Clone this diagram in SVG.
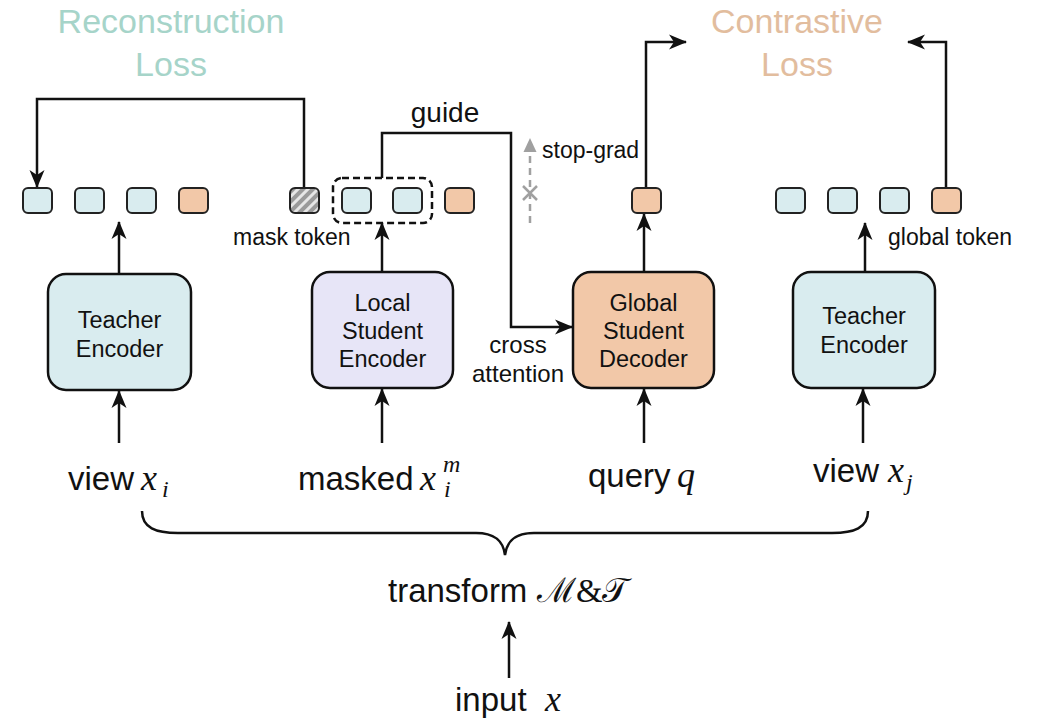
<svg xmlns="http://www.w3.org/2000/svg" width="1048" height="720" viewBox="0 0 1048 720">
  <style>
    .sans { font-family: "Liberation Sans", Arial, sans-serif; fill: #111; }
    .math { font-family: "Liberation Serif", "DejaVu Serif", serif; font-style: italic; fill: #111; }
    .title { font-size: 34px; text-anchor: middle; }
    .box { stroke: #111; stroke-width: 2.5; }
    .boxtxt { font-size: 23.5px; text-anchor: middle; }
    .tok { stroke: #222; stroke-width: 2; }
    .teal { fill: #d9ecef; }
    .orange { fill: #f2c8a8; }
    .lav { fill: #e7e5f7; }
    .wire { fill: none; stroke: #111; stroke-width: 2.5; }
    .note { font-size: 23px; }
    .io { font-size: 33px; }
  </style>
  <defs>
    <marker id="arrow" viewBox="0 0 18 16" refX="17" refY="8" markerWidth="18" markerHeight="16" orient="auto" markerUnits="userSpaceOnUse">
      <path d="M0,0.5 L18,8 L0,15.5 L5,8 z" fill="#111"/>
    </marker>
    <marker id="arrowGray" viewBox="0 0 14 14" refX="13" refY="7" markerWidth="14" markerHeight="14" orient="auto" markerUnits="userSpaceOnUse">
      <path d="M0,0.5 L14,7 L0,13.5 z" fill="#a0a0a0"/>
    </marker>
    <pattern id="hatch" patternUnits="userSpaceOnUse" width="7" height="7" patternTransform="rotate(45)">
      <rect width="7" height="7" fill="#9a9a9a"/>
      <rect width="3" height="7" fill="#e6e6e6"/>
    </pattern>
  </defs>

  <!-- loss titles -->
  <g id="reconstruction-loss">
    <text class="sans title" x="171" y="33" style="fill:#a6d4c9">Reconstruction</text>
    <text class="sans title" x="171" y="76" style="fill:#a6d4c9">Loss</text>
  </g>
  <g id="contrastive-loss">
    <text class="sans title" x="797" y="33" style="fill:#e2bd9e">Contrastive</text>
    <text class="sans title" x="797" y="76" style="fill:#e2bd9e">Loss</text>
  </g>

  <!-- connectors -->
  <g id="connectors">
    <!-- encoder outputs to token rows -->
    <path class="wire" d="M119,274 V222" marker-end="url(#arrow)"/>
    <path class="wire" d="M382,272 V223" marker-end="url(#arrow)"/>
    <path class="wire" d="M644,272 V214" marker-end="url(#arrow)"/>
    <path class="wire" d="M865,272 V223" marker-end="url(#arrow)"/>
    <!-- inputs into encoders -->
    <path class="wire" d="M119,443 V391" marker-end="url(#arrow)"/>
    <path class="wire" d="M382,443 V389" marker-end="url(#arrow)"/>
    <path class="wire" d="M644,443 V389" marker-end="url(#arrow)"/>
    <path class="wire" d="M863,443 V389" marker-end="url(#arrow)"/>
    <!-- reconstruction target -->
    <path class="wire" d="M304,188 V99 H37 V187" marker-end="url(#arrow)"/>
    <!-- guide / cross attention -->
    <path class="wire" d="M382,178 V133 H511 V327 H572" marker-end="url(#arrow)"/>
    <!-- contrastive pair -->
    <path class="wire" d="M646,188 V42 H686" marker-end="url(#arrow)"/>
    <path class="wire" d="M946,188 V42 H908" marker-end="url(#arrow)"/>
    <!-- stop-grad -->
    <path d="M530,223 V139" fill="none" stroke="#a0a0a0" stroke-width="2.5" stroke-dasharray="7,5" marker-end="url(#arrowGray)"/>
    <path d="M523,186 L537,200 M537,186 L523,200" stroke="#a0a0a0" stroke-width="2.5"/>
    <!-- brace -->
    <path class="wire" d="M142,511 C142,528 156,533 178,533 L476,533 C494,533 503,540 505,555 C507,540 516,533 534,533 L832,533 C854,533 868,528 868,511"/>
    <!-- input to transform -->
    <path class="wire" d="M509,678 V622" marker-end="url(#arrow)"/>
  </g>

  <!-- token rows -->
  <g id="tokens-teacher-i">
    <rect class="tok teal" x="23" y="188" width="29" height="25" rx="5"/>
    <rect class="tok teal" x="75" y="188" width="29" height="25" rx="5"/>
    <rect class="tok teal" x="127" y="188" width="29" height="25" rx="5"/>
    <rect class="tok orange" x="179" y="188" width="29" height="25" rx="5"/>
  </g>
  <g id="tokens-local-student">
    <rect class="tok" fill="url(#hatch)" x="290" y="188" width="29" height="25" rx="5"/>
    <rect x="333" y="178" width="99" height="45" rx="9" fill="none" stroke="#111" stroke-width="2.5" stroke-dasharray="7,4"/>
    <rect class="tok teal" x="342" y="188" width="29" height="25" rx="5"/>
    <rect class="tok teal" x="393" y="188" width="29" height="25" rx="5"/>
    <rect class="tok orange" x="445" y="188" width="29" height="25" rx="5"/>
  </g>
  <g id="token-global-student">
    <rect class="tok orange" x="632" y="188" width="29" height="25" rx="5"/>
  </g>
  <g id="tokens-teacher-j">
    <rect class="tok teal" x="776" y="188" width="29" height="25" rx="5"/>
    <rect class="tok teal" x="828" y="188" width="29" height="25" rx="5"/>
    <rect class="tok teal" x="880" y="188" width="29" height="25" rx="5"/>
    <rect class="tok orange" x="932" y="188" width="29" height="25" rx="5"/>
  </g>

  <!-- edge and token labels -->
  <g id="labels">
    <text class="sans" x="445" y="122" style="font-size:28px" text-anchor="middle">guide</text>
    <text class="sans note" x="542" y="158">stop-grad</text>
    <text class="sans note" x="233" y="245">mask token</text>
    <text class="sans note" x="888" y="245">global token</text>
    <text class="sans" style="font-size:24px" x="518" y="353" text-anchor="middle">cross</text>
    <text class="sans" style="font-size:24px" x="518" y="382" text-anchor="middle">attention</text>
  </g>

  <!-- encoders -->
  <g id="teacher-encoder-i">
    <rect class="box teal" x="48" y="274" width="143" height="116" rx="18"/>
    <text class="sans boxtxt" x="119.5" y="328">Teacher</text>
    <text class="sans boxtxt" x="119.5" y="357">Encoder</text>
  </g>
  <g id="local-student-encoder">
    <rect class="box lav" x="312" y="272" width="141" height="116" rx="18"/>
    <text class="sans boxtxt" x="382.5" y="311">Local</text>
    <text class="sans boxtxt" x="382.5" y="339">Student</text>
    <text class="sans boxtxt" x="382.5" y="367">Encoder</text>
  </g>
  <g id="global-student-decoder">
    <rect class="box orange" x="573" y="272" width="141" height="116" rx="18"/>
    <text class="sans boxtxt" x="643.5" y="311">Global</text>
    <text class="sans boxtxt" x="643.5" y="339">Student</text>
    <text class="sans boxtxt" x="643.5" y="367">Decoder</text>
  </g>
  <g id="teacher-encoder-j">
    <rect class="box teal" x="793" y="272" width="142" height="116" rx="18"/>
    <text class="sans boxtxt" x="864" y="324">Teacher</text>
    <text class="sans boxtxt" x="864" y="353">Encoder</text>
  </g>

  <!-- inputs -->
  <g id="view-i">
    <text class="sans io" x="68" y="490">view</text>
    <text class="math" x="141" y="490" style="font-size:36px">x</text>
    <text class="math" x="162" y="497" style="font-size:24px">i</text>
  </g>
  <g id="masked-view">
    <text class="sans io" x="298" y="490">masked</text>
    <text class="math" x="420" y="490" style="font-size:36px">x</text>
    <text class="math" x="443" y="472" style="font-size:24px">m</text>
    <text class="math" x="444" y="497" style="font-size:24px">i</text>
  </g>
  <g id="query">
    <text class="sans io" x="588" y="487">query</text>
    <text class="math" x="677" y="487" style="font-size:36px">q</text>
  </g>
  <g id="view-j">
    <text class="sans io" x="813" y="482">view</text>
    <text class="math" x="888" y="482" style="font-size:36px">x</text>
    <text class="math" x="906" y="490" style="font-size:24px">j</text>
  </g>
  <g id="transform">
    <text class="sans io" x="388" y="602">transform</text>
    <text class="math" x="537" y="602" style="font-size:34px;font-style:normal">ℳ&amp;𝒯</text>
  </g>
  <g id="input">
    <text class="sans io" x="455" y="711">input</text>
    <text class="math" x="545" y="711" style="font-size:36px">x</text>
  </g>
</svg>
